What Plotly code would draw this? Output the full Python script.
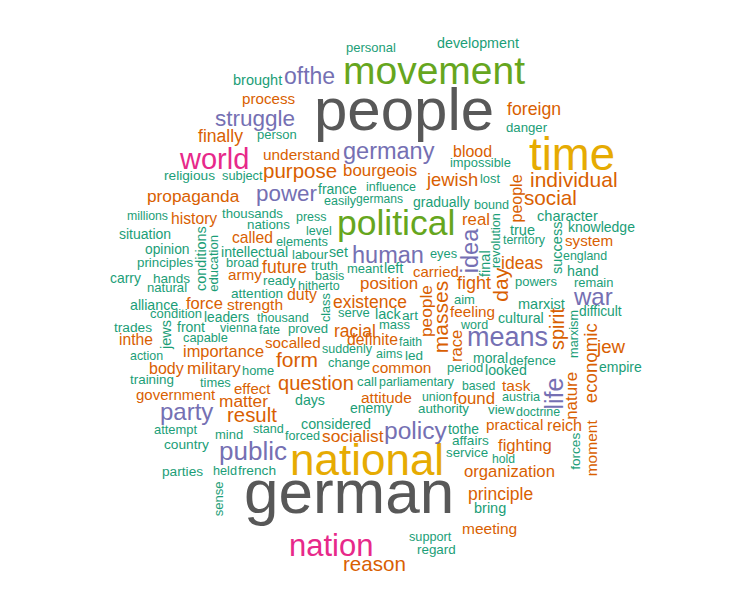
"""Word cloud of the most frequent terms, redrawn with Plotly annotations."""

import math

import plotly.graph_objects as go

# word counts and cloud positions (pixel space of the original 751x601 image)
words = [
    "brought", "process", "struggle", "finally", "person", "world", "understand",
    "religious", "subject", "purpose", "personal", "development", "movement", "ofthe",
    "people", "germany", "bourgeois", "blood", "impossible", "jewish", "lost",
    "foreign", "danger", "time", "individual", "propaganda", "power", "millions",
    "history", "thousands", "nations", "situation", "called", "elements", "opinion",
    "intellectual", "principles", "broad", "future", "army", "carry", "hands",
    "natural", "ready", "attention", "alliance", "force", "strength", "condition",
    "leaders", "thousand", "france", "influence", "easily", "germans", "gradually",
    "bound", "press", "political", "level", "labour", "set", "human", "eyes",
    "truth", "meant", "left", "carried", "basis", "position", "hitherto", "duty",
    "existence", "real", "social", "true", "character", "territory", "knowledge",
    "system", "ideas", "england", "hand", "powers", "remain", "war", "fight", "aim",
    "marxist", "difficult", "feeling", "cultural", "serve", "lack", "art", "jew",
    "empire", "means", "word", "moral", "defence", "period", "looked", "based",
    "task", "found", "austria", "view", "doctrine", "practical", "reich", "tothe",
    "affairs", "service", "fighting", "hold", "organization", "principle", "bring",
    "meeting", "support", "regard", "reason", "nation", "german", "national",
    "public", "parties", "held", "french", "country", "trades", "front", "vienna",
    "fate", "proved", "racial", "mass", "capable", "inthe", "socalled", "definite",
    "faith", "action", "importance", "form", "suddenly", "aims", "led", "body",
    "military", "home", "change", "common", "training", "times", "effect",
    "government", "matter", "question", "call", "parliamentary", "party", "result",
    "days", "attitude", "union", "enemy", "authority", "attempt", "mind", "stand",
    "considered", "forced", "socialist", "policy",
]
freq = [
    65, 72, 145, 96, 50, 210, 74,
    57, 48, 125, 50, 63, 310, 150,
    520, 155, 89, 80, 49, 104, 49,
    97, 52, 375, 130, 93, 144, 43,
    77, 52, 53, 60, 77, 48, 58,
    62, 53, 49, 96, 73, 59, 56,
    51, 52, 56, 62, 86, 75, 50,
    58, 46, 60, 45, 45, 41, 60,
    46, 45, 275, 45, 50, 62, 155, 48,
    55, 50, 65, 70, 45, 89, 45, 79,
    95, 88, 127, 65, 66, 44, 60,
    72, 96, 44, 62, 50, 49, 160, 100, 50,
    65, 58, 73, 62, 50, 65, 57, 107,
    60, 190, 45, 60, 52, 50, 62, 42,
    75, 88, 47, 53, 44, 74, 82, 59,
    56, 53, 87, 42, 87, 95, 65,
    75, 47, 54, 126, 230, 540, 360,
    180, 57, 47, 57, 57, 57, 60, 45,
    46, 51, 95, 50, 48, 77, 72, 78,
    42, 44, 84, 130, 45, 45, 55, 80,
    90, 49, 48, 75, 54, 49, 70,
    70, 93, 121, 53, 44, 160, 124,
    62, 75, 43, 60, 53, 49, 50, 46,
    63, 46, 93, 166,
]
pos_x = [
    257, 269, 255, 220.5, 277, 213.5, 301.5,
    189.5, 242, 300, 371, 478, 433.5, 309.5,
    403.5, 388.5, 380, 472.5, 480.5, 451.5, 490,
    534, 526.5, 572, 574, 193, 286.5, 147.5,
    194, 252.5, 268.5, 145, 252.5, 302, 167,
    254.5, 165, 242.5, 284.5, 245, 125.5, 171.5,
    167, 279.5, 257, 154, 204.5, 255, 176,
    226.5, 283, 337.5, 391, 340, 379.5, 441.5,
    491.5, 311.5, 395.5, 319, 310, 338.5, 387.5, 443.5,
    324.5, 365, 393, 436, 329.5, 389, 319, 302,
    370, 476, 550.5, 522.5, 567.5, 524, 601.5,
    589, 522, 585, 582.5, 536, 593.5, 592.5, 474, 464.5,
    541, 600.5, 472.5, 521, 354, 388, 410, 611,
    620.5, 507, 473.5, 490.5, 532.5, 465, 506, 478.5,
    516, 474, 521, 501.5, 538, 514.5, 564.5, 463.5,
    470.5, 467, 525, 503.5, 509.5, 500.5, 489.5,
    489.5, 430.5, 436.5, 374.5, 330.5, 349, 367,
    252.5, 182.5, 225, 257, 186.5, 133, 191, 238.5,
    269.5, 308, 355, 394.5, 205.5, 136, 293, 372.5,
    410.5, 146.5, 223.5, 297, 347, 388.5, 414, 166,
    214, 258, 349, 401.5, 152, 215.5, 252.5,
    175.5, 243.5, 316, 367, 416.5, 186.5, 252,
    310, 386.5, 437, 371, 443.5, 175.5, 229, 268.5,
    336, 302.5, 352.5, 415.5,
]
pos_y = [
    80, 98, 118, 135.5, 134.5, 159, 154,
    175, 175, 170, 47.7, 43, 70, 76.3,
    109, 151, 170.8, 151, 162, 179.7, 178.8,
    109, 127, 154, 179.4, 196.3, 193, 215.7,
    218, 213.7, 224.7, 233.5, 237.3, 241, 249.2,
    252.4, 262.7, 262.8, 266.6, 274.7, 278, 278,
    287.2, 280.4, 293.6, 305, 303.6, 304.6, 313.8,
    317.5, 318.3, 189.2, 187, 200.7, 199, 201.8,
    205, 217.3, 222.7, 230.7, 254.8, 251.8, 255.2, 253,
    265.3, 268.8, 268.3, 271.5, 275.7, 283.4, 286.3, 294.5,
    302.2, 219.2, 197.8, 230, 215.6, 239.7, 226.8,
    240.7, 263.2, 256.4, 271, 281.5, 282.8, 296.6, 283, 299.5,
    304.3, 311.9, 311.4, 317.8, 312.8, 314.3, 315.3, 346.8,
    366.8, 337.3, 324.7, 357.5, 360.4, 367.2, 370, 386.4,
    385.6, 398.2, 397.3, 409.4, 412.4, 424, 425.4, 429.2,
    440.3, 452.1, 445.9, 459, 471.5, 494, 508.3,
    528.9, 537.3, 549.4, 563.5, 545.9, 491.6, 459.8,
    450.9, 471.3, 470.6, 470.3, 444.6, 327, 326.8, 328.4,
    329.6, 328.8, 330.6, 324.8, 337.3, 339.6, 342, 339.5,
    342.4, 355.7, 351, 359.4, 349, 354, 355.3, 368.8,
    368.4, 370.5, 362.2, 367.3, 379.4, 382.8, 388.8,
    394, 400.7, 383, 381.4, 381.7, 411.8, 414.6,
    400, 397.3, 397.4, 407.5, 408.7, 429.5, 434.8, 429,
    424, 436.3, 435.7, 430.8,
]

# words that were laid out reading bottom-to-top
v_words = [
    "conditions", "education", "class", "people", "masses", "race", "people",
    "idea", "revolution", "final", "success", "day", "spirit", "marxism",
    "economic", "life", "nature", "moment", "forces", "jews", "sense",
]
v_freq = [64, 51, 47, 93, 130, 85, 80, 155, 47, 65, 65, 130, 119, 47, 107, 170, 89, 75, 56, 65, 50]
v_x = [201, 212.8, 325.6, 426, 440.7, 456, 515.5, 470.2, 495.6, 485, 557, 500.2, 557, 573.9,
       590.2, 553, 570.8, 591.3, 575.3, 166, 218.8]
v_y = [259, 263, 307.5, 311, 317.5, 346, 199, 251, 240.5, 264, 248, 284.5, 329, 334,
       363, 393.5, 396, 448, 451.5, 335, 498.5]

# RColorBrewer Dark2, binned by relative frequency (as wordcloud does)
PALETTE = ["#1B9E77", "#D95F02", "#7570B3", "#E7298A", "#66A61E", "#E6AB02", "#A6761D", "#585858"]
SIZE_MIN, SIZE_MAX = 8, 62
FONT = "Liberation Sans, Arial, Helvetica, sans-serif"

# the page body keeps its default 8px margin, so the figure starts 8px in
PAGE_W, PAGE_H, BODY_MARGIN = 751, 601, 8

fmax = max(freq + v_freq)


def style(f):
    rel = f / fmax
    size = SIZE_MIN + (SIZE_MAX - SIZE_MIN) * rel
    color = PALETTE[min(len(PALETTE), math.ceil(len(PALETTE) * rel)) - 1]
    return size, color


annotations = []
for text, f, x, y in zip(words, freq, pos_x, pos_y):
    size, color = style(f)
    annotations.append(
        dict(x=x, y=y, text=text, showarrow=False, xanchor="center", yanchor="middle",
             font=dict(family=FONT, size=size, color=color))
    )
for text, f, x, y in zip(v_words, v_freq, v_x, v_y):
    size, color = style(f)
    annotations.append(
        dict(x=x, y=y, text=text, showarrow=False, xanchor="center", yanchor="middle",
             textangle=-90, font=dict(family=FONT, size=size, color=color))
    )

fig = go.Figure()
fig.add_trace(
    go.Scatter(
        x=pos_x + v_x,
        y=pos_y + v_y,
        mode="markers",
        marker=dict(opacity=0),
        hovertext=[f"{w}: {f}" for w, f in zip(words + v_words, freq + v_freq)],
        hoverinfo="text",
        showlegend=False,
    )
)

fig.update_layout(
    width=PAGE_W - BODY_MARGIN,
    height=PAGE_H - BODY_MARGIN,
    margin=dict(l=0, r=0, t=0, b=0),
    paper_bgcolor="white",
    plot_bgcolor="white",
    annotations=annotations,
    xaxis=dict(range=[BODY_MARGIN, PAGE_W], visible=False, fixedrange=True),
    yaxis=dict(range=[PAGE_H, BODY_MARGIN], visible=False, fixedrange=True),
)

fig.write_html("out.html")
